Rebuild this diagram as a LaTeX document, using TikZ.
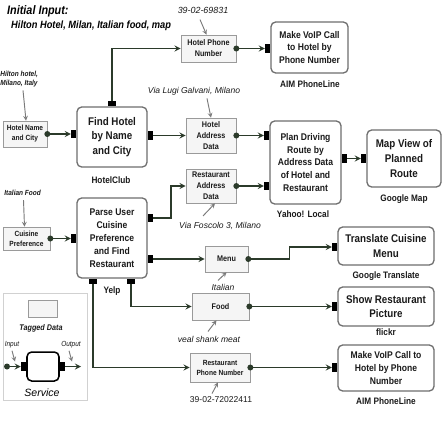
\documentclass[tikz,border=0pt]{standalone}
\usepackage{fontspec}
\setmainfont{Liberation Sans}
\newfontfamily\narrowsf[FakeStretch=0.88]{Liberation Sans}
\usepackage{tikz}
\usetikzlibrary{positioning,arrows,calc}
\definecolor{ink}      {HTML}{1A1A1A}
\definecolor{wire}     {HTML}{2B3A2A}
\definecolor{svcline}  {HTML}{6E6E6E}
\definecolor{datline}  {HTML}{9A9A9A}
\definecolor{tickgray} {HTML}{7A7A7A}
\colorlet{datfill}{black!4}
\colorlet{legline}{black!18}
\tikzset{
  >=stealth,
  % --- nodes
  svc/.style   = {rounded corners=4pt, draw=svcline, line width=1.1pt, fill=white, align=center,
                  inner sep=1pt, text=ink, font=\narrowsf\bfseries\fontsize{9.5}{12.5}\selectfont},
  svcs/.style  = {svc, font=\narrowsf\bfseries\fontsize{8.3}{11}\selectfont},
  dat/.style   = {draw=datline, fill=datfill, line width=0.6pt, align=center, inner sep=1pt,
                  text=ink, font=\narrowsf\bfseries\fontsize{7}{9.4}\selectfont},
  dats/.style  = {dat, font=\narrowsf\bfseries\fontsize{6.4}{8.6}\selectfont},
  port/.style  = {fill=black, inner sep=0pt, minimum width=1.5mm, minimum height=2.6mm},
  vport/.style = {port, minimum width=2.6mm, minimum height=1.5mm},
  who/.style   = {font=\narrowsf\bfseries\fontsize{8}{9}\selectfont, text=ink, inner sep=1pt},
  val/.style   = {font=\itshape\fontsize{7.3}{8}\selectfont, text=ink, inner sep=1pt},
  given/.style = {font=\narrowsf\bfseries\itshape\fontsize{6.3}{7.6}\selectfont, align=left,
                  text=ink, inner sep=1pt},
  % --- edges
  flow/.style  = {-stealth, line width=1.3pt, draw=wire},
  tick/.style  = {-stealth, line width=0.8pt, draw=tickgray},
}

\begin{document}
\begin{tikzpicture}[x=0.3mm,y=-0.3mm]
  \fill[white] (0,0) rectangle (442,426);
  \useasboundingbox (0,0) rectangle (442,426);
  % initial input
  \node[anchor=west, inner sep=0pt, font=\narrowsf\bfseries\itshape\fontsize{10.5}{12}\selectfont] (title) at (7,11) {Initial Input:};
  \node[anchor=west, inner sep=0pt, font=\narrowsf\bfseries\itshape\fontsize{9}{10}\selectfont] (inputs) at (11,26) {Hilton Hotel, Milan, Italian food, map};
  % services
  \node[svc, minimum width=21mm, minimum height=18mm] (findh) at (112,137) {Find Hotel\\by Name\\and City};
  \node[svcs, minimum width=21mm, minimum height=24mm] (parse) at (112,238) {Parse User\\Cuisine\\Preference\\and Find\\Restaurant};
  \node[svcs, minimum width=23.1mm, minimum height=15.3mm] (voipA) at (309.5,47.5) {Make VoIP Call\\to Hotel by\\Phone Number};
  \node[svcs, minimum width=21.3mm, minimum height=24.9mm] (plan) at (305.5,162.5) {Plan Driving\\Route by\\Address Data\\of Hotel and\\Restaurant};
  \node[svc, minimum width=22.2mm, minimum height=17.1mm] (mapv) at (404,158.5) {Map View of\\Planned\\Route};
  \node[svc, minimum width=28.8mm, minimum height=11.4mm] (transl) at (386,246) {Translate Cuisine\\Menu};
  \node[svc, minimum width=28.8mm, minimum height=11.7mm] (showp) at (386,306.5) {Show Restaurant\\Picture};
  \node[svcs, minimum width=28.8mm, minimum height=13.8mm] (voipB) at (386,368) {Make VoIP Call to\\Hotel by Phone\\Number};
  \node[who] (aimA) at (310,84) {AIM PhoneLine};
  \node[who] (hclub) at (111,180) {HotelClub};
  \node[who] (yahoo) at (303,214) {Yahoo! Local};
  \node[who] (gmap) at (404,199) {Google Map};
  \node[who] (yelp) at (112,291) {Yelp};
  \node[who] (gtrans) at (386,276) {Google Translate};
  \node[who] (flickr) at (386,332) {flickr};
  \node[who] (aimB) at (386,401) {AIM PhoneLine};
  % tagged data
  \node[dats, minimum width=13.2mm, minimum height=7.8mm] (hname) at (25,134) {Hotel Name\\and City};
  \node[dats, minimum width=14.1mm, minimum height=6.9mm] (cpref) at (26.5,238.5) {Cuisine\\Preference};
  \node[dat, minimum width=16.5mm, minimum height=8.1mm] (hphone) at (208.5,48.5) {Hotel Phone\\Number};
  \node[dat, minimum width=15mm, minimum height=10.5mm] (haddr) at (211,135.5) {Hotel\\Address\\Data};
  \node[dat, minimum width=15mm, minimum height=10.2mm] (raddr) at (211,186) {Restaurant\\Address\\Data};
  \node[dat, minimum width=12.9mm, minimum height=7.8mm] (menu) at (226.5,259) {Menu};
  \node[dat, minimum width=17.1mm, minimum height=8.1mm] (food) at (220.5,306.5) {Food};
  \node[dats, minimum width=18mm, minimum height=8.7mm] (rphone) at (220,367.5) {Restaurant\\Phone Number};
  % values
  \node[given, anchor=west] (hiltonval) at (-1,79) {Hilton hotel,\\Milano, Italy};
  \node[given, anchor=west] (foodval) at (3,193) {Italian Food};
  \node[val, font=\itshape\fontsize{7.6}{8}\selectfont] (phoneval) at (203,10) {39-02-69831};
  \node[val] (galv) at (194,91) {Via Lugi Galvani, Milano};
  \node[val] (foscolo) at (220,226) {Via Foscolo 3, Milano};
  \node[val] (italval) at (223,287) {Italian};
  \node[val] (vealval) at (209,339) {veal shank meat};
  \node[val, font=\fontsize{7.3}{8}\selectfont] (rphoneval) at (221,400) {39-02-72022411};
  % ports
  \node[vport, anchor=south] (findh-top) at (findh.north) {};
  \node[port, anchor=east] (findh-in) at (findh.west |- hname) {};
  \node[port, anchor=west] (findh-out) at (findh.east |- haddr) {};
  \node[port, anchor=east] (voipA-in) at (voipA.west |- hphone) {};
  \node[port, anchor=east] (plan-in1) at (plan.west |- haddr) {};
  \node[port, anchor=east] (plan-in2) at (plan.west |- raddr) {};
  \node[port, anchor=west] (plan-out) at (plan.east |- mapv.west) {};
  \node[port, anchor=east] (mapv-in) at (mapv.west) {};
  \node[port, anchor=east] (parse-in) at (parse.west |- cpref) {};
  \node[port, anchor=west] (parse-o1) at (parse.east |- 0,218) {};
  \node[port, anchor=west] (parse-o2) at (parse.east |- menu) {};
  \node[vport, anchor=north] (parse-b1) at (parse.south -| 93,0) {};
  \node[vport, anchor=north] (parse-b2) at (parse.south -| 131,0) {};
  \node[port, anchor=east] (transl-in) at (transl.west |- 0,247) {};
  \node[port, anchor=east] (showp-in) at (showp.west |- food) {};
  \node[port, anchor=east] (voipB-in) at (voipB.west |- rphone) {};
  % flows
  \draw[flow] (findh-top.north) |- (hphone.west);
  \draw[flow] (hphone.east) -- (voipA-in.west);
  \draw[flow] (hname.east) -- (findh-in.west);
  \draw[flow] (findh-out.east) -- (haddr.west);
  \draw[flow] (haddr.east) -- (plan-in1.west);
  \draw[flow] (raddr.east) -- (plan-in2.west);
  \draw[flow] (plan-out.east) -- (mapv-in.west);
  \draw[flow] (cpref.east) -- (parse-in.west);
  \draw[flow] (parse-o1.east) -- ++(18,0) |- (raddr.west);
  \draw[flow] (parse-o2.east) -- (menu.west);
  \draw[flow] (menu.east) -- ++(41,0) |- (transl-in.west);
  \draw[flow] (parse-b2.south) |- (food.west);
  \draw[flow] (food.east) -- (showp-in.west);
  \draw[flow] (parse-b1.south) |- (rphone.west);
  \draw[flow] (rphone.east) -- (voipB-in.west);
  \foreach \n in {hphone,hname,haddr,raddr,cpref,menu,food,rphone}
    \fill[wire] (\n.east) circle (0.9mm);
  % value ticks
  \draw[tick] ($(phoneval.south)+(-3,5)$) -- ($(hphone.north)+(-2,0)$);
  \draw[tick] ($(galv.south)+(13,2)$) -- (haddr.north);
  \draw[tick] ($(hiltonval.south -| hname.north)+(-2,2)$) -- ($(hname.north)+(1,0)$);
  \draw[tick] ($(foodval.south -| cpref.north)+(-3,3)$) -- ($(cpref.north)+(-2,0)$);
  \draw[tick] ($(foscolo.north)+(-17,-5)$) -- ($(raddr.south)+(4,0)$);
  \draw[tick] ($(italval.north)+(-5,-2)$) -- (menu.south);
  \draw[tick] ($(vealval.north)+(-1,-3)$) -- ($(food.south)+(-4,0)$);
  \draw[tick] ($(rphoneval.north)+(-9,-2)$) -- ($(rphone.south)+(-2,0)$);
  % legend
  \node[draw=legline, line width=0.5pt, inner sep=0pt, minimum width=25.2mm, minimum height=32.1mm] (legend) at (45,346.5) {};
  \node[dat, minimum width=8.7mm, minimum height=5.1mm] (legdat) at (42.5,308.5) {};
  \node[given, font=\narrowsf\bfseries\itshape\fontsize{7}{8}\selectfont] (legdatlbl) at (41,328) {Tagged Data};
  \node[svc, draw=black, line width=1.3pt, minimum width=9.6mm, minimum height=8.7mm] (legsvc) at (43,366.5) {};
  \node[port, anchor=east] (legsvc-in) at (legsvc.west) {};
  \node[port, anchor=west] (legsvc-out) at (legsvc.east) {};
  \coordinate (legin) at (7,366.5);
  \coordinate (legout) at (81,366.5);
  \fill[wire] (legin) circle (0.9mm);
  \draw[flow] (legin) -- (legsvc-in.west);
  \draw[flow] (legsvc-out.east) -- (legout);
  \node[given, font=\narrowsf\itshape\fontsize{6.3}{7}\selectfont] (inlbl) at (12,345) {Input};
  \node[given, font=\narrowsf\itshape\fontsize{6.3}{7}\selectfont] (outlbl) at (71,345) {Output};
  \draw[tick] ($(inlbl.south)+(0,1)$) -- ($(legin)+(8,-5)$);
  \draw[tick] ($(outlbl.south)+(-2,1)$) -- ($(legout)+(-9,-5)$);
  \node[font=\itshape\fontsize{9}{10}\selectfont, inner sep=1pt] (svclbl) at (42,393) {Service};
\end{tikzpicture}
\end{document}
